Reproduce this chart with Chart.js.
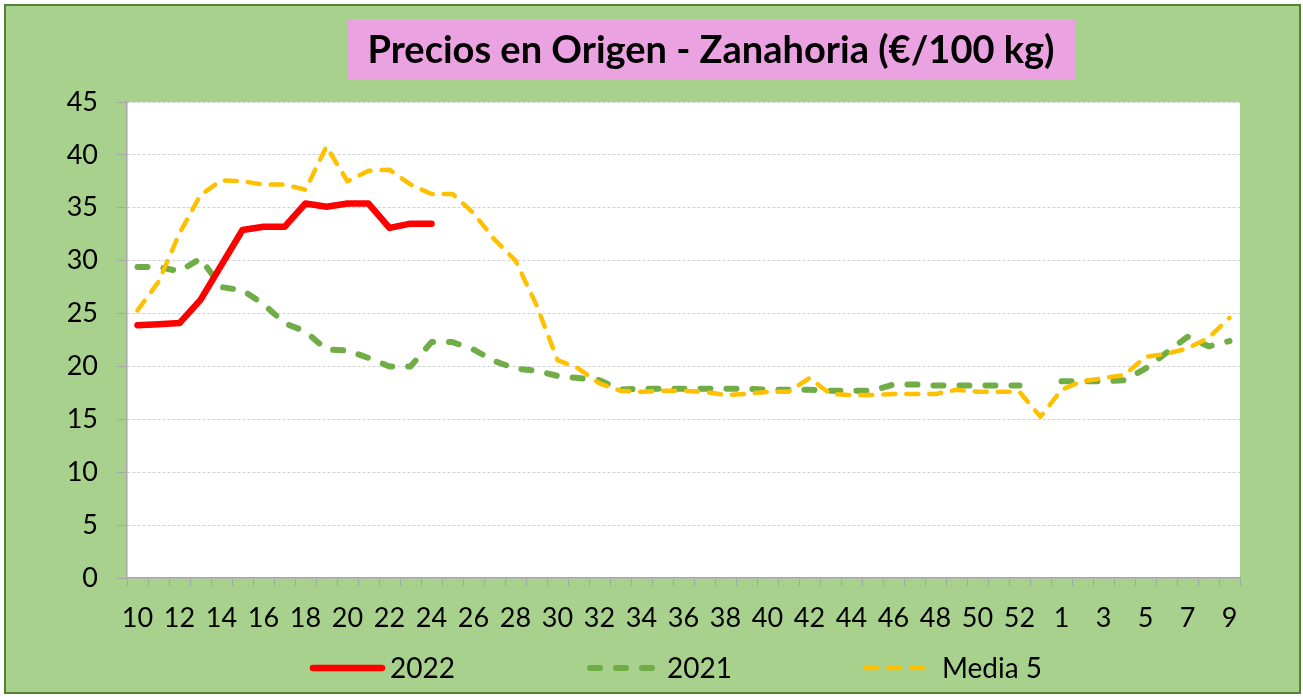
<!DOCTYPE html>
<html>
<head>
<meta charset="utf-8">
<script src="https://cdn.jsdelivr.net/npm/chart.js@4.4.1/dist/chart.umd.min.js"></script>
<style>
  html, body { margin: 0; padding: 0; background: #ffffff; }
  canvas { display: block; }
</style>
</head>
<body>
<canvas id="chart" width="1303" height="697"></canvas>
<script>
// semanas de campaña: 10..53 y 1..9
const semanas = ['10', '11', '12', '13', '14', '15', '16', '17', '18', '19', '20', '21', '22', '23', '24', '25', '26', '27', '28', '29',
  '30', '31', '32', '33', '34', '35', '36', '37', '38', '39', '40', '41', '42', '43', '44', '45', '46', '47', '48', '49',
  '50', '51', '52', '53', '1', '2', '3', '4', '5', '6', '7', '8', '9']

const precios2022 = [23.9, 24.0, 24.1, 26.3, 29.6, 32.9, 33.2, 33.2, 35.4, 35.1, 35.4, 35.4, 33.1, 33.5, 33.5]

const precios2021 = [29.4, 29.4, 29.0, 30.2, 27.5, 27.2, 25.9, 24.1, 23.3, 21.6, 21.5, 20.8, 20.0, 20.0, 22.3, 22.3,
  21.6, 20.5, 19.8, 19.6, 19.1, 18.9, 18.7, 17.8, 17.9, 17.9, 17.9, 17.9, 17.9, 17.9, 17.8, 17.8, 17.8, 17.7, 17.7,
  17.7, 18.3, 18.3, 18.2, 18.2, 18.2, 18.2, 18.2, null, 18.6, 18.6, 18.6, 18.7, 19.8, 21.3, 22.8, 21.9, 22.4]

const media5 = [25.3, 28.0, 32.6, 36.2, 37.6, 37.5, 37.2, 37.2, 36.7, 40.8, 37.5, 38.5, 38.6, 37.2, 36.3, 36.3,
  34.5, 32.0, 30.0, 25.8, 20.6, 19.8, 18.4, 17.7, 17.6, 17.7, 17.7, 17.6, 17.3, 17.4, 17.6, 17.6, 18.9, 17.4, 17.3,
  17.3, 17.4, 17.4, 17.4, 17.8, 17.6, 17.6, 17.6, 15.25, 17.8, 18.6, 18.9, 19.2, 20.9, 21.2, 21.7, 22.7, 24.6]

const ejeY = { min: 0, max: 45, paso: 5 }

const titulo = 'Precios en Origen - Zanahoria (€/100 kg)'
const fuente = 'Lato, "Open Sans", sans-serif'

// fondo verde, recuadro del título y leyenda
const marco = {
  id: 'marco',
  beforeDraw(chart) {
    const ctx = chart.ctx
    ctx.save()
    ctx.fillStyle = '#ffffff'
    ctx.fillRect(0, 0, chart.width, chart.height)
    ctx.fillStyle = '#a9d18e'
    ctx.fillRect(5, 5, chart.width - 8, chart.height - 9)
    ctx.strokeStyle = '#548235'
    ctx.lineWidth = 2
    ctx.strokeRect(5, 5, chart.width - 8, chart.height - 9)
    ctx.fillStyle = '#ffffff'
    const a = chart.chartArea
    ctx.fillRect(a.left, a.top, a.right - a.left, a.bottom - a.top)
    ctx.restore()
  },
  afterDraw(chart) {
    const ctx = chart.ctx
    ctx.save()
    // título
    ctx.fillStyle = '#eba2e1'
    ctx.fillRect(348, 19, 727, 61)
    ctx.font = 'bold 38px ' + fuente
    ctx.fillStyle = '#000000'
    ctx.textAlign = 'center'
    ctx.textBaseline = 'alphabetic'
    ctx.fillText(titulo, 711, 63)

    // leyenda
    const xs = [310, 587, 862]
    const y = 668
    ctx.textAlign = 'left'
    ctx.font = '28px ' + fuente
    chart.data.datasets.forEach((ds, i) => {
      ctx.beginPath()
      ctx.setLineDash(ds.borderDash || [])
      ctx.lineCap = 'round'
      ctx.lineWidth = ds.borderWidth
      ctx.strokeStyle = ds.borderColor
      ctx.moveTo(xs[i] + 3, y)
      ctx.lineTo(xs[i] + 72, y)
      ctx.stroke()
      ctx.setLineDash([])
      ctx.fillStyle = '#000000'
      ctx.fillText(ds.label, xs[i] + 80, y + 10)
    })
    ctx.restore()
  }
}

new Chart(document.getElementById('chart'), {
  type: 'line',
  data: {
    labels: semanas,
    datasets: [{
      label: '2022',
      data: precios2022,
      borderColor: '#ff0000',
      borderWidth: 6.5,
      borderCapStyle: 'round',
      borderJoinStyle: 'round',
      order: 0
    }, {
      label: '2021',
      data: precios2021,
      borderColor: '#70ad47',
      borderWidth: 6,
      borderDash: [10, 16],
      borderCapStyle: 'round',
      borderJoinStyle: 'round',
      order: 2
    }, {
      label: 'Media 5',
      data: media5,
      borderColor: '#ffc000',
      borderWidth: 4.5,
      borderDash: [12, 11],
      borderCapStyle: 'round',
      borderJoinStyle: 'round',
      order: 1
    }]
  },
  options: {
    responsive: false,
    animation: false,
    devicePixelRatio: 1,
    layout: {
      padding: { top: 102, right: 63, bottom: 49, left: 0 }
    },
    elements: {
      point: { radius: 0 },
      line: { tension: 0 }
    },
    plugins: {
      legend: { display: false },
      title: { display: false },
      tooltip: { enabled: false }
    },
    scales: {
      x: {
        offset: true,
        afterFit(scale) { scale.height = 70 },
        grid: {
          offset: true,
          drawOnChartArea: false,
          tickLength: 8,
          tickColor: '#a6a6a6'
        },
        border: { color: '#a6a6a6', width: 1.5 },
        ticks: {
          autoSkip: false,
          maxRotation: 0,
          minRotation: 0,
          padding: 16,
          color: '#000000',
          font: { family: fuente, size: 27 },
          callback: (value, index) => index % 2 === 0 ? semanas[index] : ''
        }
      },
      y: {
        min: ejeY.min,
        max: ejeY.max,
        afterFit(scale) { scale.width = 127 },
        grid: {
          color: '#d0d0d0',
          tickColor: '#a6a6a6',
          tickLength: 10
        },
        border: { color: '#a6a6a6', width: 1.5, dash: [3, 2] },
        ticks: {
          stepSize: ejeY.paso,
          padding: 19,
          color: '#000000',
          font: { family: fuente, size: 27 }
        }
      }
    }
  },
  plugins: [marco]
})
</script>
</body>
</html>
